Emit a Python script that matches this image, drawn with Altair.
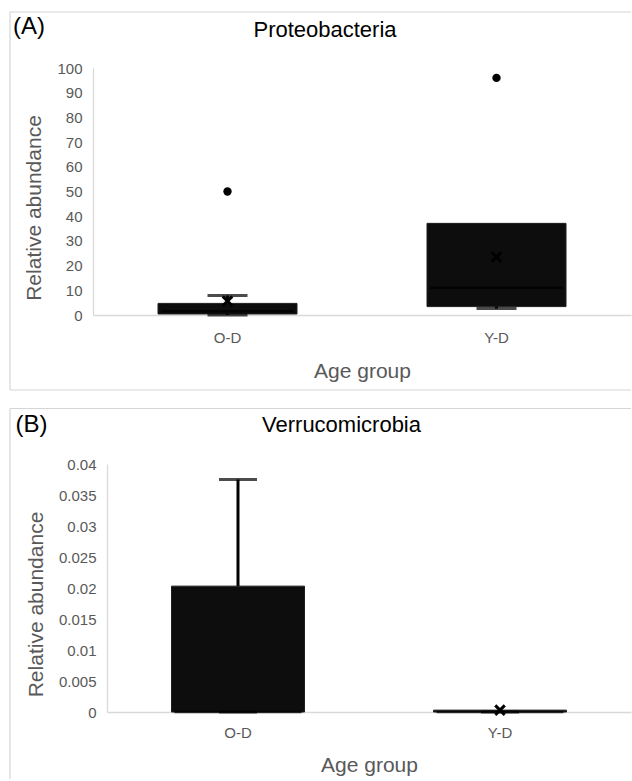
import altair as alt
import pandas as pd

# ---------------- data ----------------
groups = ["O-D", "Y-D"]

# (A) Proteobacteria – box & whisker values
prot_q1 = [0.4, 3.4]
prot_median = [1.5, 11.0]
prot_q3 = [4.7, 37.1]
prot_whisker_low = [0.0, 2.6]
prot_whisker_high = [7.9, 37.1]
prot_mean_groups = ["O-D", "Y-D"]
prot_mean = [5.6, 23.5]
prot_outlier_groups = ["O-D", "Y-D"]
prot_outliers = [50.0, 96.0]
prot_ticks = [0, 10, 20, 30, 40, 50, 60, 70, 80, 90, 100]

# (B) Verrucomicrobia – box & whisker values
verr_q1 = [0.0, 0.0]
verr_median = [0.0, 0.0]
verr_q3 = [0.0203, 0.0003]
verr_whisker_low = [0.0, 0.0]
verr_whisker_high = [0.0375, 0.0003]
verr_mean_groups = ["Y-D"]
verr_mean = [0.0003]
verr_outlier_groups = []
verr_outliers = []
verr_ticks = [0, 0.005, 0.01, 0.015, 0.02, 0.025, 0.03, 0.035, 0.04]

FONT = "Liberation Sans"
GRAY = "#595959"
LINE = "#d9d9d9"
BORDER = "#d6d6d6"
XSHAPE = "M-1,-1L1,1M1,-1L-1,1"
W = 538


def one(text):
    return pd.DataFrame({"t": [text]})


def panel(letter, title, q1, med, q3, wlo, whi, mean_g, mean_v, out_g, out_v,
          ticks, fmt, shift, height, box_w, cap_w, geo):
    box = pd.DataFrame({"group": groups, "q1": q1, "med": med, "q3": q3,
                        "wlo": wlo, "whi": whi})
    means = pd.DataFrame({"group": mean_g, "mean": mean_v})
    outs = pd.DataFrame({"group": out_g, "val": out_v})

    X = alt.X("group:N", sort=groups,
              scale=alt.Scale(domain=groups, paddingInner=0, paddingOuter=0,
                              range=[shift, W]),
              axis=alt.Axis(title="Age group", labelAngle=0, ticks=False, tickSize=0,
                            domainColor=LINE, domainWidth=1.3,
                            labelPadding=geo["lpad"], titlePadding=geo["tpad"],
                            labelFontSize=15, titleFontSize=21,
                            labelColor=GRAY, titleColor=GRAY, titleFontWeight="normal"))
    yscale = alt.Scale(domain=[ticks[0], ticks[-1]], nice=False, zero=True)
    yaxis = alt.Axis(title="Relative abundance", values=ticks, format=fmt, grid=False,
                     ticks=False, tickSize=0, domainColor=LINE, domainWidth=1.3,
                     offset=-shift, titleY=height / 2 + 16,
                     labelPadding=11, titlePadding=12, labelFontSize=15, titleFontSize=21,
                     labelColor=GRAY, titleColor=GRAY, titleFontWeight="normal")

    def Y(field):
        return alt.Y(field, scale=yscale, axis=yaxis)

    base = alt.Chart(box)
    boxes = base.mark_bar(size=box_w, color="#0d0d0d", stroke="#1f1f1f",
                          strokeWidth=1).encode(x=X, y=Y("q1:Q"), y2="q3:Q")
    w_up = base.mark_rule(color="black", strokeWidth=3).encode(x=X, y=Y("q3:Q"), y2="whi:Q")
    w_dn = base.mark_rule(color="black", strokeWidth=3).encode(x=X, y=Y("wlo:Q"), y2="q1:Q")
    cap_up = base.transform_filter("datum.whi > datum.q3").mark_tick(
        size=cap_w, thickness=3, color="black").encode(x=X, y=Y("whi:Q"))
    cap_dn = base.mark_tick(size=cap_w, thickness=3, color="black").encode(x=X, y=Y("wlo:Q"))
    medians = base.mark_tick(size=box_w - 6, thickness=2.5, color="black").encode(x=X, y=Y("med:Q"))
    mean_mk = alt.Chart(means).mark_point(shape=XSHAPE, filled=False, color="black",
                                          strokeWidth=3, size=90, opacity=1).encode(
        x=X, y=Y("mean:Q"))
    layers = [boxes, w_up, w_dn, cap_up, cap_dn, medians, mean_mk]
    if len(outs):
        layers.append(alt.Chart(outs).mark_circle(size=70, color="black", opacity=1).encode(
            x=X, y=Y("val:Q")))

    # panel letter and title
    layers.append(alt.Chart(one(letter)).mark_text(
        font=FONT, fontSize=24, color="black", align="left", baseline="alphabetic").encode(
        text="t:N", x=alt.value(geo["lx"]), y=alt.value(geo["ly"])))
    layers.append(alt.Chart(one(title)).mark_text(
        font=FONT, fontSize=22, color="black", align="center", baseline="alphabetic").encode(
        text="t:N", x=alt.value(geo["tx"]), y=alt.value(geo["ty"])))

    # panel frame (light grey border)
    left, top, bottom = -83, geo["top"], geo["bottom"]
    rule = dict(color=BORDER, strokeWidth=1.2)
    layers.append(alt.Chart(one("b")).mark_rule(**rule).encode(
        x=alt.value(left), x2=alt.value(W), y=alt.value(top)))
    layers.append(alt.Chart(one("b")).mark_rule(**rule).encode(
        x=alt.value(left), y=alt.value(top), y2=alt.value(bottom)))
    if geo.get("bottom_rule"):
        layers.append(alt.Chart(one("b")).mark_rule(**rule).encode(
            x=alt.value(left), x2=alt.value(W), y=alt.value(bottom)))

    return alt.layer(*layers).properties(width=W, height=height)


panel_a = panel("(A)", "Proteobacteria", prot_q1, prot_median, prot_q3,
                prot_whisker_low, prot_whisker_high, prot_mean_groups, prot_mean,
                prot_outlier_groups, prot_outliers, prot_ticks, "d", 0,
                height=247, box_w=139, cap_w=40,
                geo=dict(lx=-80, ly=-34, tx=232, ty=-31, lpad=15, tpad=15,
                         top=-56, bottom=322, bottom_rule=True))

panel_b = panel("(B)", "Verrucomicrobia", verr_q1, verr_median, verr_q3,
                verr_whisker_low, verr_whisker_high, verr_mean_groups, verr_mean,
                verr_outlier_groups, verr_outliers, verr_ticks, "~g", 14,
                height=248, box_w=133, cap_w=38,
                geo=dict(lx=-77.5, ly=-32, tx=248.5, ty=-32.5, lpad=13, tpad=14,
                         top=-55.5, bottom=315, bottom_rule=False))

chart = alt.vconcat(panel_a, panel_b, spacing=16).properties(
    padding={"left": 9, "top": 11, "right": 0, "bottom": 0},
    background="white",
).configure(font=FONT).configure_view(stroke=None)

chart.save("out.html", embed_options={"renderer": "svg", "actions": False})
